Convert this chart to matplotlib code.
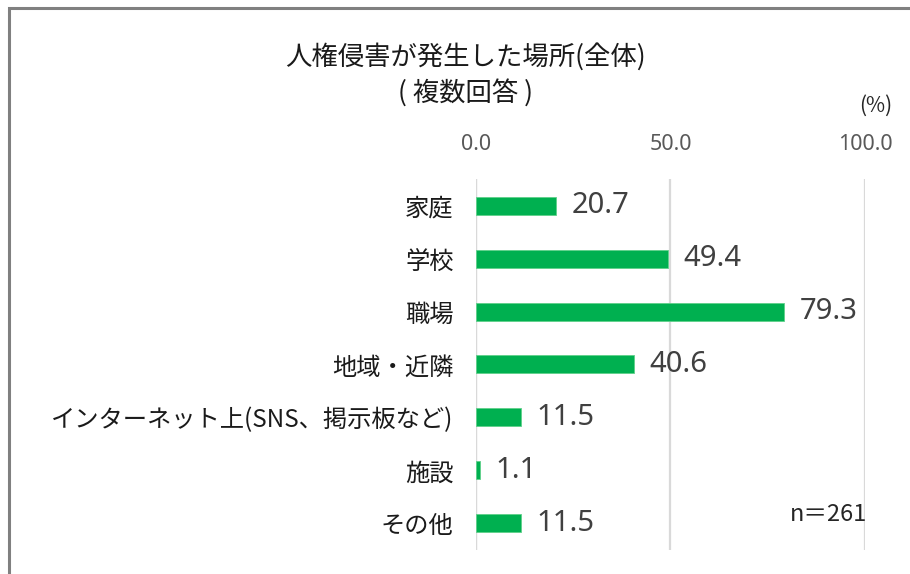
import matplotlib
matplotlib.use("Agg")
import matplotlib.pyplot as plt
from matplotlib.patches import Rectangle

plt.rcParams['font.family'] = ['Noto Sans CJK JP', 'DejaVu Sans']

categories = ["家庭", "学校", "職場", "地域・近隣", "インターネット上(SNS、掲示板など)", "施設", "その他"]
values = [20.7, 49.4, 79.3, 40.6, 11.5, 1.1, 11.5]
xticks = [0.0, 50.0, 100.0]
xtick_labels = ["0.0", "50.0", "100.0"]
title_line1 = "人権侵害が発生した場所(全体)"
title_line2 = "( 複数回答 )"
unit_label = "(%)"
n_label = "n＝261"

fig = plt.figure(figsize=(9.10, 5.74), dpi=100)
ax = fig.add_axes([0.523, 0.042, 0.4275, 0.646])

y = list(range(len(categories)))
ax.barh(y, values, height=0.34, color="#00B050", edgecolor="#5FD08A", linewidth=0.6, zorder=3)
ax.set_ylim(len(categories) - 0.5, -0.5)
ax.set_xlim(0, 100)
ax.set_yticks(y)
ax.set_yticklabels(categories, fontsize=17.5, color="#1A1A1A")
ax.set_xticks(xticks)
ax.set_xticklabels(xtick_labels, fontsize=15.5, color="#595959", family=['Noto Sans', 'DejaVu Sans'])
ax.xaxis.tick_top()
ax.tick_params(axis='both', length=0)
ax.tick_params(axis='x', pad=17)
ax.tick_params(axis='y', pad=16)
for s in ax.spines.values():
    s.set_visible(False)
ax.grid(axis='x', color="#D9D9D9", linewidth=1.6, zorder=0)
ax.axvline(0, color="#D9D9D9", linewidth=1.6, zorder=2)

for yi, v in zip(y, values):
    ax.annotate(f"{v:.1f}", xy=(v, yi), xytext=(11, 0), textcoords='offset points',
                va='center', ha='left', fontsize=21, color="#404040",
                family=['Noto Sans', 'DejaVu Sans'])

fig.text(0.511, 0.901, title_line1, ha='center', va='center', fontsize=19, color="#1A1A1A")
fig.text(0.511, 0.838, title_line2, ha='center', va='center', fontsize=19, color="#1A1A1A")
fig.text(0.962, 0.815, unit_label, ha='center', va='center', fontsize=15, color="#262626")
fig.text(0.910, 0.104, n_label, ha='center', va='center', fontsize=17, color="#262626")

fig.add_artist(Rectangle((0.0098, -0.05), 1.2, 1.036, transform=fig.transFigure,
                         fill=False, edgecolor="#808080", linewidth=2.2))

fig.savefig("out.png", dpi=100)
